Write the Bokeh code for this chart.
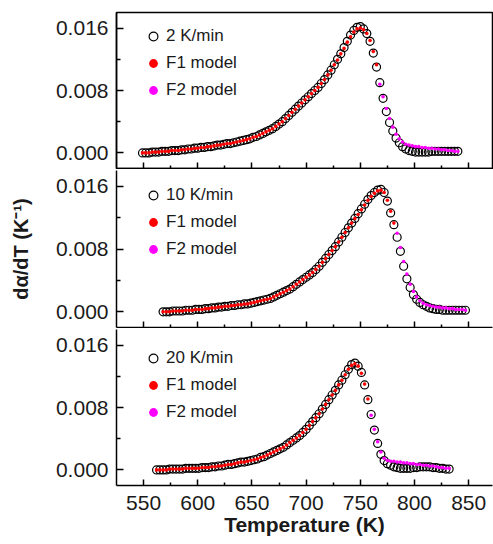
from bokeh.plotting import figure
from bokeh.layouts import column
from bokeh.models import (Range1d, FixedTicker, Legend, LegendItem, NumeralTickFormatter,
                          CustomLabelingPolicy)
from bokeh.embed import file_html
from bokeh.resources import INLINE

# ---------------- data ----------------
x_ticks = [550, 600, 650, 700, 750, 800, 850]
x_minor = [575, 625, 675, 725, 775, 825]
y_ticks = [0.0, 0.008, 0.016]
y_minor = [0.004, 0.012]

rate_labels = ["2 K/min", "10 K/min", "20 K/min"]

# 2 K/min experimental, T = 549..840 step 3
t_exp1 = list(range(549, 841, 3))
exp1 = [0.0000, 0.0000, 0.0000, 0.0001, 0.0001, 0.0001, 0.0002, 0.0002, 0.0002, 0.0003,
        0.0003, 0.0003, 0.0004, 0.0004, 0.0005, 0.0005, 0.0006, 0.0006, 0.0007, 0.0007,
        0.0008, 0.0008, 0.0009, 0.0010, 0.0010, 0.0011, 0.0012, 0.0012, 0.0013, 0.0014,
        0.0015, 0.0016, 0.0017, 0.0018, 0.0020, 0.0021, 0.0023, 0.0025, 0.0027, 0.0029,
        0.0031, 0.0034, 0.0037, 0.0040, 0.0044, 0.0048, 0.0052, 0.0056, 0.0060, 0.0064,
        0.0068, 0.0072, 0.0076, 0.0080, 0.0084, 0.0089, 0.0094, 0.0100, 0.0106, 0.0113,
        0.0120, 0.0127, 0.0135, 0.0143, 0.0151, 0.0157, 0.0161, 0.0162, 0.0159, 0.0153,
        0.0143, 0.0128, 0.0110, 0.0090, 0.0070, 0.0053, 0.0039, 0.0028, 0.0019, 0.0013,
        0.0008, 0.0005, 0.0003, 0.0002, 0.0001, 0.0001, 0.0001, 0.0001, 0.0001, 0.0002,
        0.0002, 0.0002, 0.0002, 0.0002, 0.0002, 0.0002, 0.0002, 0.0002]
t_f1_1 = list(range(549, 766, 3))
f1_1 = exp1[:60] + [0.0119, 0.0127, 0.0134, 0.0142, 0.0149, 0.0155, 0.0159, 0.0160, 0.0158, 0.0153,
                    0.0144, 0.0130, 0.0113]
t_f2_1 = list(range(768, 841, 3))
f2_1 = [0.0088, 0.0072, 0.0057, 0.0044, 0.0033, 0.0024, 0.0018, 0.0014, 0.0011, 0.0010,
        0.0009, 0.0008, 0.0008, 0.0007, 0.0007, 0.0006, 0.0006, 0.0005, 0.0005, 0.0004,
        0.0004, 0.0003, 0.0003, 0.0002, 0.0002]

# 10 K/min experimental, T = 568..847 step 3
t_exp2 = list(range(568, 848, 3))
exp2 = [0.0000, 0.0000, 0.0000, 0.0001, 0.0001, 0.0001, 0.0001, 0.0002, 0.0002, 0.0002,
        0.0003, 0.0003, 0.0003, 0.0004, 0.0004, 0.0005, 0.0005, 0.0006, 0.0006, 0.0007,
        0.0007, 0.0008, 0.0008, 0.0009, 0.0009, 0.0010, 0.0010, 0.0011, 0.0012, 0.0013,
        0.0014, 0.0015, 0.0016, 0.0017, 0.0019, 0.0021, 0.0023, 0.0025, 0.0027, 0.0029,
        0.0032, 0.0035, 0.0038, 0.0041, 0.0044, 0.0047, 0.0050, 0.0054, 0.0058, 0.0063,
        0.0068, 0.0073, 0.0078, 0.0083, 0.0089, 0.0095, 0.0101, 0.0107, 0.0113, 0.0119,
        0.0125, 0.0131, 0.0137, 0.0143, 0.0148, 0.0152, 0.0155, 0.0156, 0.0152, 0.0141,
        0.0126, 0.0111, 0.0095, 0.0077, 0.0058, 0.0042, 0.0031, 0.0022, 0.0016, 0.0012,
        0.0009, 0.0007, 0.0005, 0.0004, 0.0003, 0.0003, 0.0002, 0.0002, 0.0002, 0.0002,
        0.0002, 0.0002, 0.0002, 0.0002]
t_f1_2 = list(range(568, 782, 3))
f1_2 = exp2[:60] + [0.0124, 0.0130, 0.0136, 0.0142, 0.0147, 0.0151, 0.0154, 0.0155, 0.0152, 0.0142,
                    0.0128, 0.0113]
t_f2_2 = list(range(784, 848, 3))
f2_2 = [0.0100, 0.0082, 0.0064, 0.0048, 0.0035, 0.0026, 0.0019, 0.0014, 0.0011, 0.0009,
        0.0008, 0.0007, 0.0006, 0.0006, 0.0005, 0.0005, 0.0004, 0.0004, 0.0003, 0.0003,
        0.0003, 0.0002]

# 20 K/min experimental, T = 562..832 step 3
t_exp3 = list(range(562, 833, 3))
exp3 = [0.0000, 0.0000, 0.0000, 0.0000, 0.0001, 0.0001, 0.0001, 0.0001, 0.0001, 0.0002,
        0.0002, 0.0002, 0.0002, 0.0002, 0.0003, 0.0003, 0.0003, 0.0004, 0.0004, 0.0005,
        0.0005, 0.0006, 0.0007, 0.0007, 0.0008, 0.0009, 0.0010, 0.0010, 0.0011, 0.0012,
        0.0013, 0.0014, 0.0016, 0.0017, 0.0019, 0.0021, 0.0023, 0.0025, 0.0027, 0.0029,
        0.0032, 0.0035, 0.0038, 0.0041, 0.0044, 0.0048, 0.0052, 0.0057, 0.0062, 0.0067,
        0.0072, 0.0078, 0.0084, 0.0090, 0.0096, 0.0102, 0.0109, 0.0115, 0.0122, 0.0129,
        0.0135, 0.0137, 0.0133, 0.0125, 0.0109, 0.0090, 0.0071, 0.0051, 0.0034, 0.0020,
        0.0012, 0.0008, 0.0006, 0.0004, 0.0003, 0.0002, 0.0002, 0.0002, 0.0002, 0.0003,
        0.0003, 0.0004, 0.0004, 0.0004, 0.0004, 0.0003, 0.0003, 0.0002, 0.0002, 0.0001,
        0.0001]
t_f1_3 = list(range(562, 758, 3))
f1_3 = exp3[:60] + [0.0134, 0.0136, 0.0133, 0.0124, 0.0110, 0.0091]
t_f2_3 = list(range(760, 833, 3))
f2_3 = [0.0070, 0.0052, 0.0036, 0.0023, 0.0015, 0.0012, 0.0011, 0.0011, 0.0010, 0.0010,
        0.0009, 0.0009, 0.0008, 0.0008, 0.0007, 0.0007, 0.0006, 0.0006, 0.0005, 0.0005,
        0.0004, 0.0003, 0.0003, 0.0002, 0.0002]

# ---------------- styling ----------------
FONT = "Liberation Sans"
TXT = "#1a1a1a"
x_range = Range1d(525, 872)


def make_panel(t_e, v_e, t_a, v_a, t_b, v_b, label, fh, b_top, b_bottom, legend_top,
               show_xlabels=False, ylabel=None, boxed=False):
    p = figure(frame_width=376, frame_height=fh, x_range=x_range,
               y_range=Range1d(-0.002, 0.018), output_backend="svg",
               toolbar_location=None, min_border_left=116, min_border_right=1,
               min_border_top=b_top, min_border_bottom=b_bottom)
    p.grid.visible = False
    p.background_fill_color = "white"
    if boxed:
        p.outline_line_color = "black"
        p.outline_line_width = 1.5
        p.outline_line_alpha = 1
    else:
        p.outline_line_color = None

    r_e = p.scatter(t_e, v_e, marker="circle", size=8, fill_color=None,
                    line_color="black", line_width=1.2)
    r_a = p.scatter(t_a, v_a, marker="circle", size=3.6, fill_color="#ff0000",
                    line_color=None)
    r_b = p.scatter(t_b, v_b, marker="circle", size=3.6, fill_color="#ff00ff",
                    line_color=None)

    for ax in (p.xaxis[0], p.yaxis[0]):
        ax.axis_line_color = "black"
        ax.axis_line_width = 1.5
        ax.major_tick_line_color = "black"
        ax.major_tick_line_width = 1.5
        ax.minor_tick_line_color = "black"
        ax.minor_tick_line_width = 1.5
        ax.major_tick_out = 0
        ax.minor_tick_out = 0
        ax.major_label_text_font = FONT
        ax.major_label_text_color = TXT
        ax.major_label_text_font_size = "21px"

    p.yaxis.ticker = FixedTicker(ticks=y_ticks, minor_ticks=y_minor)
    p.yaxis.formatter = NumeralTickFormatter(format="0.000")
    p.yaxis.major_tick_in = 7
    p.yaxis.minor_tick_in = 4
    p.yaxis.major_label_standoff = 8

    p.xaxis.ticker = FixedTicker(ticks=x_ticks, minor_ticks=x_minor)
    p.xaxis.major_tick_in = 6
    p.xaxis.minor_tick_in = 3
    if show_xlabels:
        p.xaxis.major_label_standoff = 10
        p.xaxis.axis_label = "Temperature (K)"
        p.xaxis.axis_label_text_font = FONT
        p.xaxis.axis_label_text_font_style = "bold"
        p.xaxis.axis_label_text_font_size = "21px"
        p.xaxis.axis_label_text_color = TXT
        p.xaxis.axis_label_standoff = 0
    else:
        # ticks only on the upper panels: no labels drawn, no space reserved
        p.xaxis.major_label_policy = CustomLabelingPolicy(code="return []")
        p.xaxis.major_label_text_font_size = "0px"
        p.xaxis.major_label_standoff = 0

    if ylabel:
        p.yaxis.axis_label = ylabel
        p.yaxis.axis_label_text_font = FONT
        p.yaxis.axis_label_text_font_style = "bold"
        p.yaxis.axis_label_text_font_size = "20px"
        p.yaxis.axis_label_text_color = TXT
        p.yaxis.axis_label_standoff = 21

    legend_h = 3 * 22 + 2 * 5
    legend = Legend(items=[LegendItem(label=label, renderers=[r_e]),
                           LegendItem(label="F1 model", renderers=[r_a]),
                           LegendItem(label="F2 model", renderers=[r_b])],
                    location=(26, fh - legend_top - legend_h), padding=0, margin=0,
                    border_line_color=None, background_fill_alpha=0,
                    glyph_width=22, glyph_height=22, spacing=5, label_standoff=2,
                    label_text_font=FONT, label_text_font_size="17px",
                    label_text_color=TXT)
    p.add_layout(legend)
    return p


p1 = make_panel(t_exp1, exp1, t_f1_1, f1_1, t_f2_1, f2_1, rate_labels[0],
                156, 12, 1, 13, boxed=True)
p2 = make_panel(t_exp2, exp2, t_f1_2, f1_2, t_f2_2, f2_2, rate_labels[1],
                157, 1, 1, 14, ylabel="d\u03b1/dT (K\u207b\u00b9)")
p3 = make_panel(t_exp3, exp3, t_f1_3, f1_3, t_f2_3, f2_3, rate_labels[2],
                156, 1, 55, 18, show_xlabels=True)

layout = column(p1, p2, p3, spacing=0)
open("out.html", "w").write(file_html(layout, INLINE))
